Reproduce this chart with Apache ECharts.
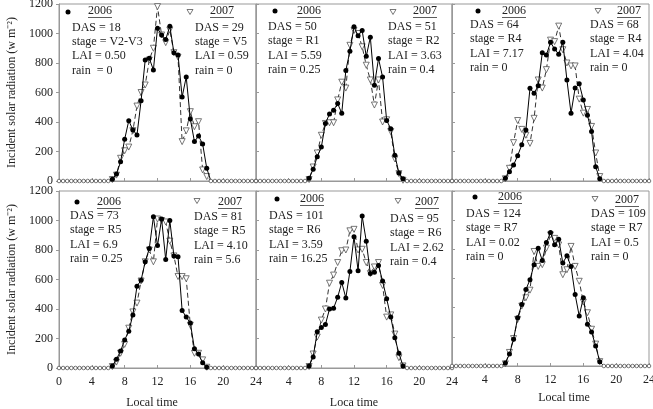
<!DOCTYPE html>
<html>
<head>
<meta charset="utf-8">
<script src="https://cdn.jsdelivr.net/npm/echarts@6/dist/echarts.min.js"></script>
<style>
  html, body { margin: 0; padding: 0; background: #fff; }
  #chart { width: 653px; height: 409px; }
</style>
</head>
<body>
<div id="chart"></div>
<script>
// half-hourly local time
const hours = [0,0.5,1,1.5,2,2.5,3,3.5,4,4.5,5,5.5,6,6.5,7,7.5,8,8.5,9,9.5,10,10.5,11,11.5,12,
  12.5,13,13.5,14,14.5,15,15.5,16,16.5,17,17.5,18,18.5,19,19.5,20,20.5,21,21.5,22,22.5,23,23.5,24];
const yTicks = [0, 200, 400, 600, 800, 1000, 1200];

// incident solar radiation (w m-2), 2006 = filled dots, 2007 = open triangles
const tl2006 = [0,0,0,0,0,0,0,0,0,0,0,0,0, 12,47,130,283,409,346,312,544,820,832,753,1035,990,960,1050,870,855,570,705,420,267,305,251,86, 0,0,0,0,0,0,0,0,0,0,0,0];
const tl2007 = [0,0,0,0,0,0,0,0,0,0,0,0,0, 10,40,154,205,230,341,508,600,651,820,900,1182,990,938,1024,870,840,267,340,470,368,402,75,30, 0,0,0,0,0,0,0,0,0,0,0,0];
const tm2006 = [0,0,0,0,0,0,0,0,0,0,0,0,0, 18,80,165,230,390,455,480,525,460,750,880,1045,985,1020,845,975,650,830,705,410,355,175,55,15, 0,0,0,0,0,0,0,0,0,0,0,0];
const tm2007 = [0,0,0,0,0,0,0,0,0,0,0,0,0, 10,95,190,310,390,395,395,550,670,630,920,1020,1000,910,785,685,515,685,400,415,335,150,50,5, 0,0,0,0,0,0,0,0,0,0,0,0];
const tr2006 = [0,0,0,0,0,0,0,0,0,0,0,0,0, 18,63,108,172,245,345,628,595,645,870,855,940,895,860,940,685,460,630,660,550,445,335,97,15, 0,0,0,0,0,0,0,0,0,0,0,0];
const tr2007 = [0,0,0,0,0,0,0,0,0,0,0,0,0, 15,86,260,410,350,310,255,425,685,630,755,955,945,1050,890,800,780,780,555,460,485,370,190,30, 0,0,0,0,0,0,0,0,0,0,0,0];
const bl2006 = [0,0,0,0,0,0,0,0,0,0,0,0,0, 14,60,115,190,250,360,555,595,720,810,1025,830,1010,735,1000,760,755,390,345,305,130,95,35,5, 0,0,0,0,0,0,0,0,0,0,0,0];
const bl2007 = [0,0,0,0,0,0,0,0,0,0,0,0,0, 10,40,100,160,270,380,440,590,720,800,720,1010,1000,990,860,760,620,620,605,290,100,100,55,5, 0,0,0,0,0,0,0,0,0,0,0,0];
const bm2006 = [0,0,0,0,0,0,0,0,0,0,0,0,0, 14,75,245,275,295,400,405,480,580,475,655,890,660,1030,860,640,650,695,590,470,345,205,100,14, 0,0,0,0,0,0,0,0,0,0,0,0];
const bm2007 = [0,0,0,0,0,0,0,0,0,0,0,0,0, 10,95,210,325,400,575,630,715,795,800,930,940,800,805,715,640,685,715,560,345,360,230,70,14, 0,0,0,0,0,0,0,0,0,0,0,0];
const br2006 = [0,0,0,0,0,0,0,0,0,0,0,0,0, 20,82,184,331,422,524,592,695,808,724,847,915,831,869,706,756,683,490,343,468,286,234,138,30, 0,0,0,0,0,0,0,0,0,0,0,0];
const br2007 = [0,0,0,0,0,0,0,0,0,0,0,0,0, 15,93,188,320,411,468,520,785,683,695,808,899,875,830,626,660,820,683,581,438,365,252,150,30, 0,0,0,0,0,0,0,0,0,0,0,0];

// panel notes
const tlNote06 = ['DAS = 18', 'stage = V2-V3', 'LAI = 0.50', 'rain  = 0'];
const tlNote07 = ['DAS = 29', 'stage = V5', 'LAI = 0.59', 'rain = 0'];
const tmNote06 = ['DAS = 50', 'stage = R1', 'LAI = 5.59', 'rain = 0.25'];
const tmNote07 = ['DAS = 51', 'stage = R2', 'LAI = 3.63', 'rain = 0.4'];
const trNote06 = ['DAS = 64', 'stage = R4', 'LAI = 7.17', 'rain = 0'];
const trNote07 = ['DAS = 68', 'stage = R4', 'LAI = 4.04', 'rain = 0'];
const blNote06 = ['DAS = 73', 'stage = R5', 'LAI = 6.9', 'rain = 0.25'];
const blNote07 = ['DAS = 81', 'stage = R5', 'LAI = 4.10', 'rain = 5.6'];
const bmNote06 = ['DAS = 101', 'stage = R6', 'LAI = 3.59', 'rain = 16.25'];
const bmNote07 = ['DAS = 95', 'stage = R6', 'LAI = 2.62', 'rain = 0.4'];
const brNote06 = ['DAS = 124', 'stage = R7', 'LAI = 0.02', 'rain = 0'];
const brNote07 = ['DAS = 109', 'stage = R7', 'LAI = 0.5', 'rain = 0'];

const yTitle = 'Incident solar radiation (w m\u207B\u00B2)';
const xTitles = ['Local time', 'Loca time', 'Local time'];

const FONT = '"Liberation Serif", "Times New Roman", serif';
const TXT = '#222';
const AX = '#999';

const colLeft = [59, 256, 452];
const colW = [197, 196, 197];
const rowTop = [4, 191];
const rowH = [177, 177];

// placement of the notes in each panel
const panels = [
  { r: 0, c: 0, a: tl2006, b: tl2007, n6: tlNote06, n7: tlNote07, dot: [68, 12], t6: [88, 11], l6: [72, 27.5], tri: [190, 12], t7: [210, 11], l7: [195, 27.5] },
  { r: 0, c: 1, a: tm2006, b: tm2007, n6: tmNote06, n7: tmNote07, dot: [275, 11], t6: [297, 11], l6: [268, 27], tri: [393, 12], t7: [413, 11], l7: [388, 27] },
  { r: 0, c: 2, a: tr2006, b: tr2007, n6: trNote06, n7: trNote07, dot: [478, 11], t6: [502, 11], l6: [470, 25], tri: [598, 11], t7: [617, 11], l7: [590, 25] },
  { r: 1, c: 0, a: bl2006, b: bl2007, n6: blNote06, n7: blNote07, dot: [77, 202], t6: [97, 202], l6: [70, 216], tri: [197, 201], t7: [218, 202], l7: [194, 217] },
  { r: 1, c: 1, a: bm2006, b: bm2007, n6: bmNote06, n7: bmNote07, dot: [277, 199], t6: [300, 199], l6: [269, 216], tri: [398, 201], t7: [415, 202], l7: [390, 219] },
  { r: 1, c: 2, a: br2006, b: br2007, n6: brNote06, n7: brNote07, dot: [475, 197], t6: [498, 197], l6: [466, 214], tri: [595, 199], t7: [615, 200], l7: [591, 214] }
];

const grids = [], xAxes = [], yAxes = [], series = [], graphics = [];

panels.forEach((p, i) => {
  // the lower right frame sits a little higher in the original
  const h = (p.r === 1 && p.c === 2) ? rowH[p.r] - 2 : rowH[p.r];
  grids.push({
    left: colLeft[p.c], top: rowTop[p.r], width: colW[p.c], height: h,
    show: true, borderColor: AX, borderWidth: 1, outerBoundsMode: 'none'
  });
  xAxes.push({
    type: 'value', gridIndex: i, min: 0, max: 24, interval: 4,
    axisLine: { show: true, lineStyle: { color: AX } },
    axisTick: { show: true, length: 3, inside: true, lineStyle: { color: AX } },
    splitLine: { show: false },
    axisLabel: {
      show: p.r === 1,
      margin: 8,
      fontFamily: FONT, fontSize: 12, color: TXT,
      formatter: v => (p.c > 0 && v === 0) ? '' : String(v)
    }
  });
  yAxes.push({
    type: 'value', gridIndex: i, min: yTicks[0], max: yTicks[yTicks.length - 1], interval: 200,
    axisLine: { show: true, lineStyle: { color: AX } },
    axisTick: { show: true, length: 3, inside: p.c > 0, lineStyle: { color: AX } },
    splitLine: { show: false },
    axisLabel: { show: p.c === 0, margin: 6, fontFamily: FONT, fontSize: 12, color: TXT, formatter: v => String(v) },
    name: p.c === 0 ? yTitle : '',
    nameLocation: 'middle', nameGap: 41,
    nameTextStyle: { fontFamily: FONT, fontSize: 12, color: TXT }
  });

  series.push({
    type: 'line', xAxisIndex: i, yAxisIndex: i, name: '2007',
    symbol: 'triangle', symbolRotate: 180, symbolSize: 6,
    itemStyle: { color: '#fff', borderColor: '#555', borderWidth: 0.8 },
    lineStyle: { color: '#333', width: 1, type: [5, 3] },
    data: hours.map((hr, k) => p.b[k] === 0 ? { value: [hr, 0], symbolSize: 0 } : [hr, p.b[k]]),
    z: 2
  });
  series.push({
    type: 'line', xAxisIndex: i, yAxisIndex: i, name: '2006',
    symbol: 'circle', symbolSize: 5,
    itemStyle: { color: '#000' },
    lineStyle: { color: '#000', width: 1 },
    data: hours.map((hr, k) => p.a[k] === 0
      ? { value: [hr, 0], symbolSize: 3.6, itemStyle: { color: '#fff', borderColor: '#555', borderWidth: 0.8 } }
      : [hr, p.a[k]]),
    z: 3
  });

  // legend-like marks and notes
  graphics.push({ type: 'circle', shape: { cx: p.dot[0], cy: p.dot[1], r: 2.5 }, style: { fill: '#000' } });
  graphics.push({
    type: 'polygon',
    shape: { points: [[p.tri[0] - 3, p.tri[1] - 2.5], [p.tri[0] + 3, p.tri[1] - 2.5], [p.tri[0], p.tri[1] + 2.5]] },
    style: { fill: '#fff', stroke: '#555', lineWidth: 0.8 }
  });
  [[p.t6, '2006'], [p.t7, '2007']].forEach(([pos, s]) => {
    graphics.push({ type: 'text', x: pos[0], y: pos[1], style: { text: s, font: '12px ' + FONT, fill: TXT, verticalAlign: 'middle' } });
    graphics.push({ type: 'line', shape: { x1: pos[0], y1: pos[1] + 6.5, x2: pos[0] + 24, y2: pos[1] + 6.5 }, style: { stroke: '#333', lineWidth: 0.8 } });
  });
  p.n6.forEach((s, k) => graphics.push({ type: 'text', x: p.l6[0], y: p.l6[1] + k * 14.3, style: { text: s, font: '12px ' + FONT, fill: TXT, verticalAlign: 'middle' } }));
  p.n7.forEach((s, k) => graphics.push({ type: 'text', x: p.l7[0], y: p.l7[1] + k * 14.3, style: { text: s, font: '12px ' + FONT, fill: TXT, verticalAlign: 'middle' } }));
});

// x-axis titles under the bottom row
const xTitlePos = [[152, 403], [354, 403], [564, 398]];
xTitles.forEach((s, k) => graphics.push({
  type: 'text', x: xTitlePos[k][0], y: xTitlePos[k][1],
  style: { text: s, font: '12px ' + FONT, fill: TXT, align: 'center', verticalAlign: 'middle' }
}));

const chart = echarts.init(document.getElementById('chart'));
chart.setOption({
  animation: false,
  backgroundColor: '#fff',
  grid: grids,
  xAxis: xAxes,
  yAxis: yAxes,
  series: series,
  graphic: graphics
});
</script>
</body>
</html>
